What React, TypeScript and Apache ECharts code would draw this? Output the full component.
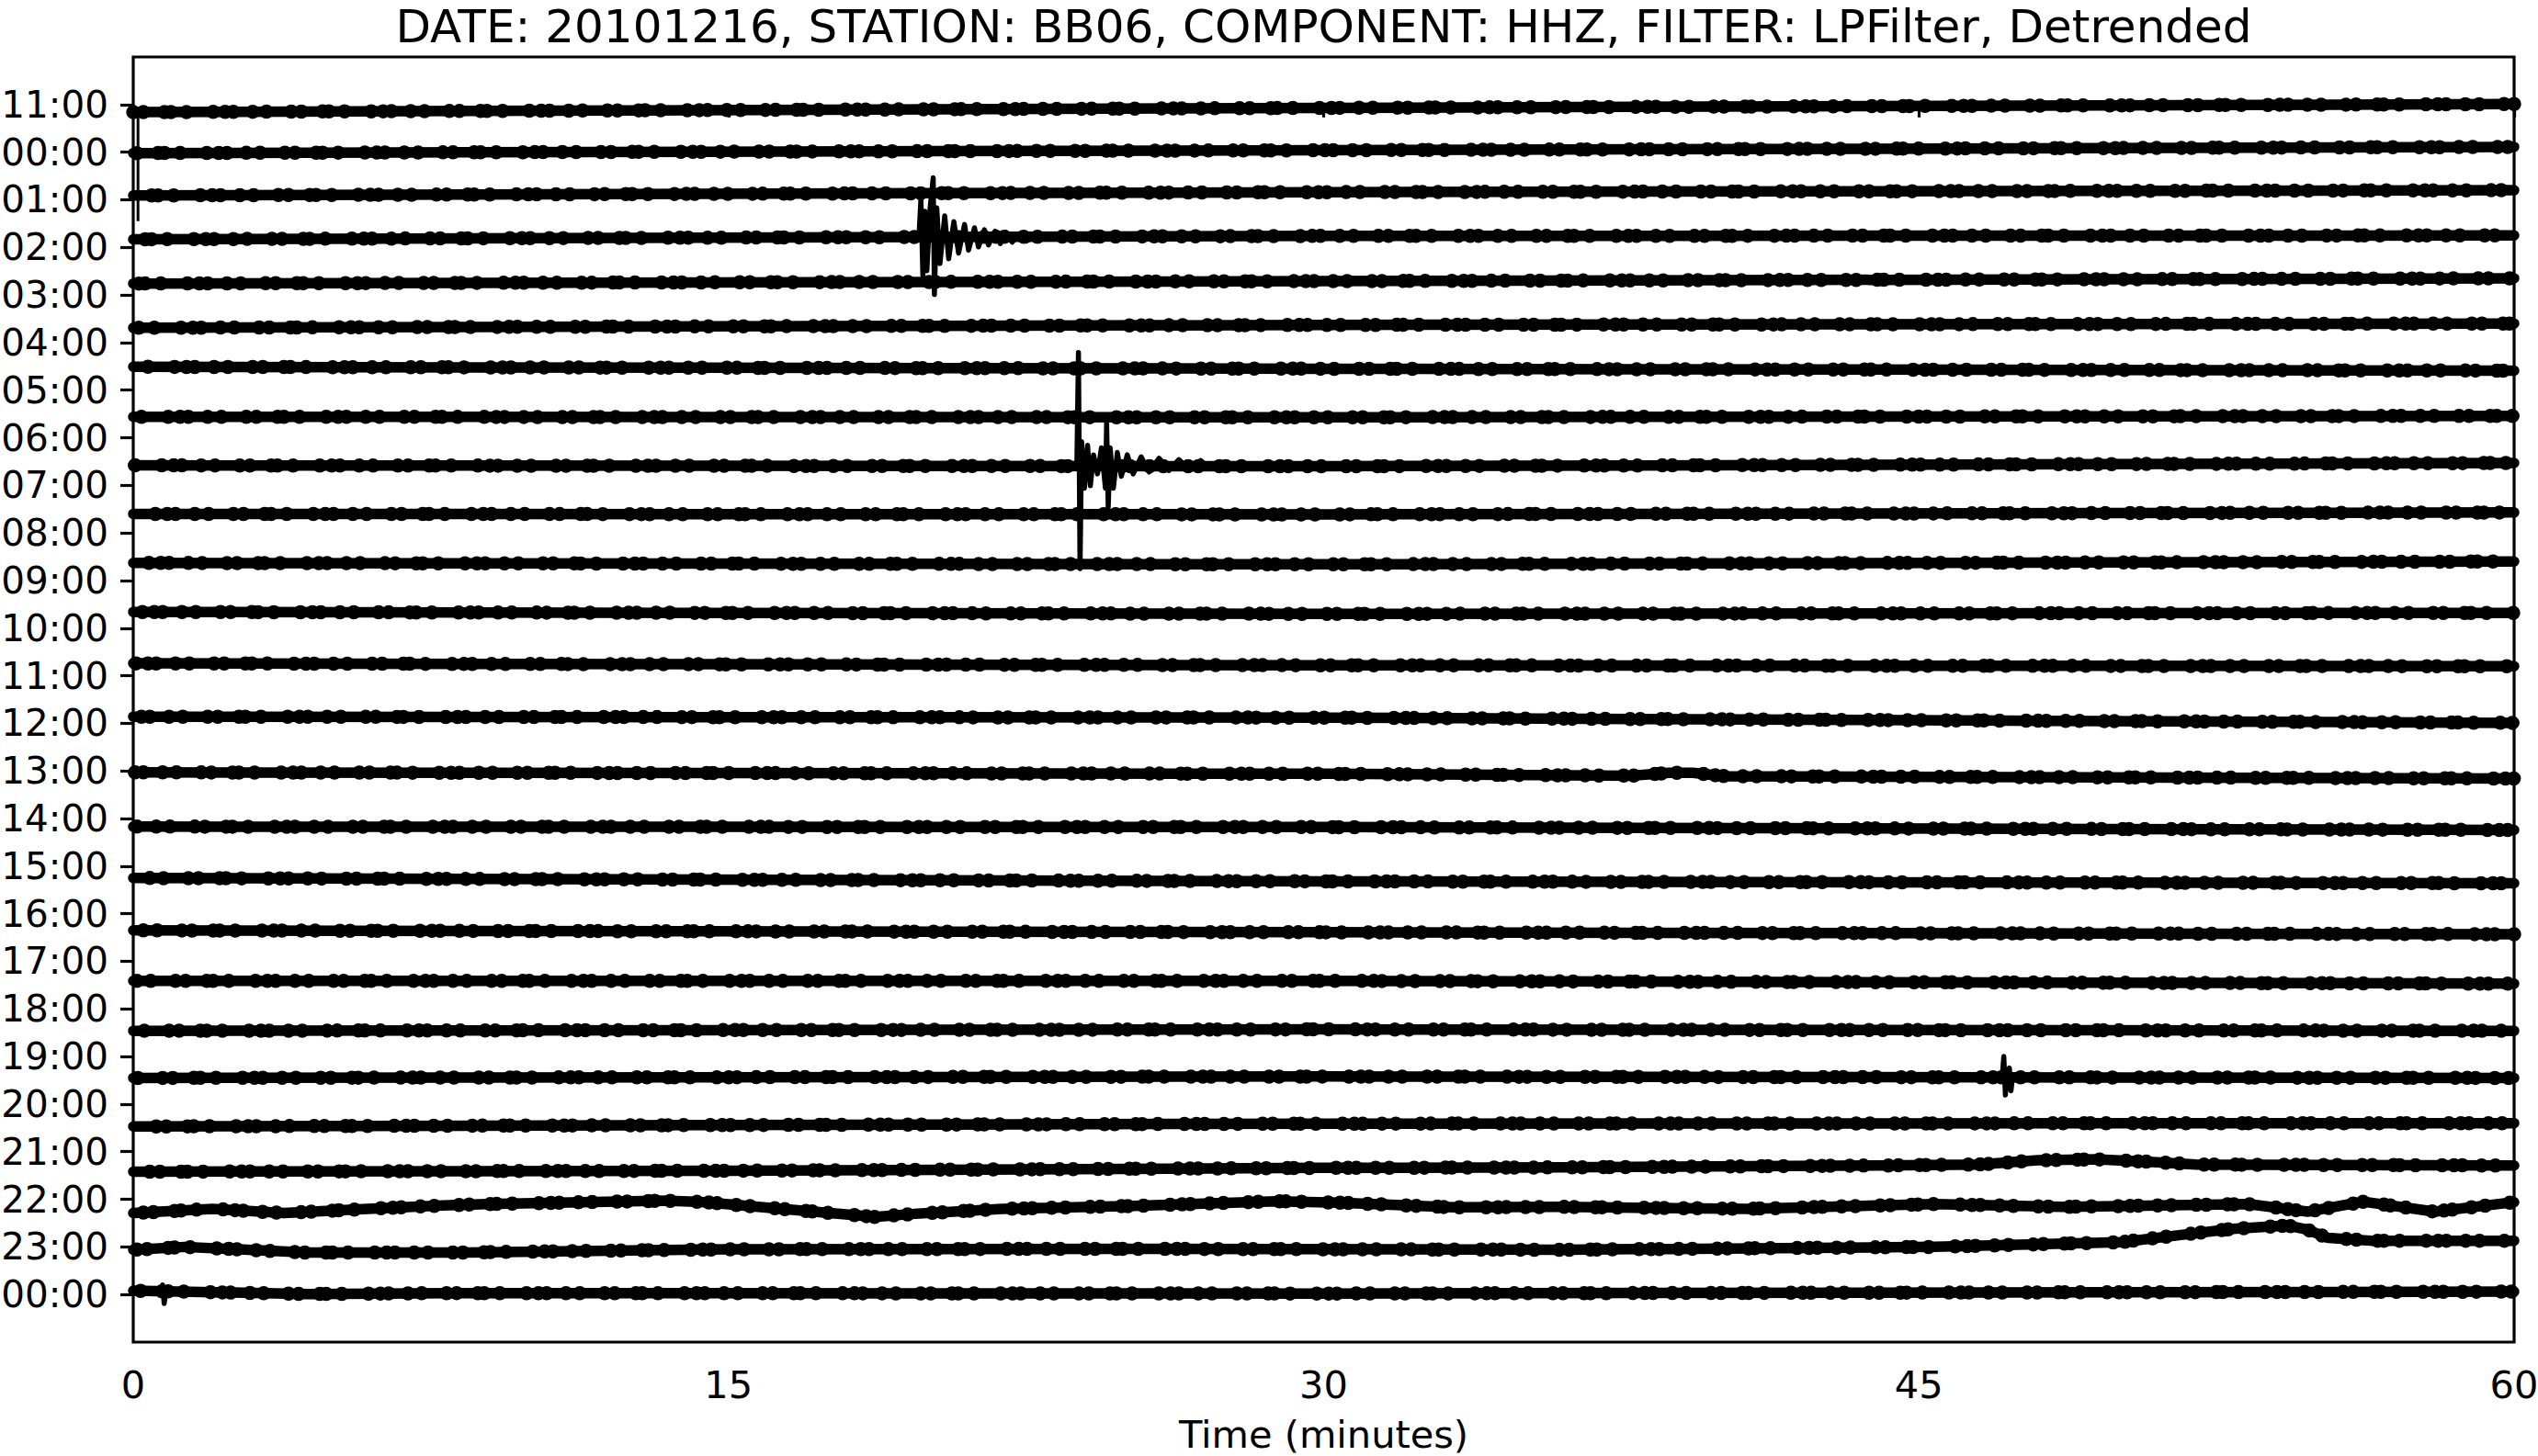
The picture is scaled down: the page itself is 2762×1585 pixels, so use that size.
import React, { useEffect, useRef } from "react";
import * as echarts from "echarts";

// ---- tick labels ----
const hourLabels = [
  "11:00", "00:00", "01:00", "02:00", "03:00", "04:00", "05:00", "06:00", "07:00",
  "08:00", "09:00", "10:00", "11:00", "12:00", "13:00", "14:00", "15:00", "16:00",
  "17:00", "18:00", "19:00", "20:00", "21:00", "22:00", "23:00", "00:00",
];
const hourTickValues = [0, 1, 2, 3, 4, 5, 6, 7, 8, 9, 10, 11, 12, 13, 14, 15, 16, 17, 18, 19, 20, 21, 22, 23, 24, 25];
const minuteTicks = [0, 15, 30, 45, 60];

const titleText = "DATE: 20101216, STATION: BB06, COMPONENT: HHZ, FILTER: LPFilter, Detrended";
const xAxisTitle = "Time (minutes)";

// ---- trace baselines: [minute, row position] (row axis grows downward) ----
const t00 = [[0, 0.16], [30, 0.07], [60, -0.01]];
const t01 = [[0, 1.02], [30, 0.96], [60, 0.89]];
const t02 = [[0, 1.91], [30, 1.84], [60, 1.8]];
const t03 = [[0, 2.83], [30, 2.76], [60, 2.75]];
const t04 = [[0, 3.76], [30, 3.71], [60, 3.65]];
const t05 = [[0, 4.69], [30, 4.63], [60, 4.6]];
const t06 = [[0, 5.51], [30, 5.55], [60, 5.59]];
const t07 = [[0, 6.56], [30, 6.57], [60, 6.54]];
const t08 = [[0, 7.58], [30, 7.6], [60, 7.53]];
const t09 = [[0, 8.6], [30, 8.61], [60, 8.57]];
const t10 = [[0, 9.63], [30, 9.66], [60, 9.6]];
const t11 = [[0, 10.66], [30, 10.7], [60, 10.68]];
const t12 = [[0, 11.74], [30, 11.78], [60, 11.8]];
const t13 = [[0, 12.86], [30, 12.88], [60, 12.99]];
const t14 = [[0, 14.03], [30, 14.06], [37.8, 14.1], [38.7, 14.04], [39.3, 14.04], [40.1, 14.11], [60, 14.16]];
const t15 = [[0, 15.17], [30, 15.18], [60, 15.24]];
const t16 = [[0, 16.25], [30, 16.32], [60, 16.36]];
const t17 = [[0, 17.35], [30, 17.39], [60, 17.43]];
const t18 = [[0, 18.41], [30, 18.41], [60, 18.47]];
const t19 = [[0, 19.46], [30, 19.43], [60, 19.46]];
const t20 = [[0, 20.45], [30, 20.42], [60, 20.45]];
const t21 = [[0, 21.47], [30, 21.41], [60, 21.4]];
const t22 = [[0, 22.42], [15, 22.4], [30, 22.34], [36, 22.33], [44, 22.29], [46.5, 22.27], [48, 22.18], [49.5, 22.16], [51, 22.22], [52, 22.27], [60, 22.29]];
const t23 = [
  [0, 23.29], [2, 23.2], [3.8, 23.29], [5.9, 23.2], [7.8, 23.13], [8.9, 23.1], [13.4, 23.03], [14.4, 23.06],
  [18.7, 23.37], [19.6, 23.31], [21.9, 23.2], [25.2, 23.14], [28.8, 23.04], [30.4, 23.07], [33.3, 23.17],
  [36, 23.16], [40.7, 23.2], [45.4, 23.1], [48.6, 23.16], [53.3, 23.1], [54.8, 23.26], [56.2, 23.05],
  [58, 23.26], [60, 23.06],
];
const t24 = [
  [0, 24.06], [1.3, 24.0], [4.4, 24.12], [8, 24.12], [15, 24.05], [25, 24.04], [36, 24.06], [45.4, 24.0],
  [50.1, 23.9], [51.7, 23.74], [52.9, 23.62], [54.3, 23.55], [54.8, 23.64], [55.3, 23.81], [56.4, 23.87], [60, 23.87],
];
const t25 = [[0, 24.92], [4.4, 24.99], [8, 24.97], [30, 24.98], [60, 24.94]];

const traces = [t00, t01, t02, t03, t04, t05, t06, t07, t08, t09, t10, t11, t12, t13, t14, t15, t16, t17, t18, t19, t20, t21, t22, t23, t24, t25];

// ---- events: [minute, offset from the trace row] ----
const eventRow03 = 2.79;
const event03 = [
  [19.8, 0], [19.85, -0.8], [19.9, 0.8], [19.95, -0.55], [20.0, 0.7], [20.08, -0.6], [20.16, -1.25],
  [20.19, 1.2], [20.25, -0.62], [20.33, 0.55], [20.45, -0.45], [20.55, 0.45], [20.68, -0.33], [20.8, 0.33],
  [20.95, -0.27], [21.05, 0.27], [21.2, -0.2], [21.3, 0.2], [21.45, -0.16], [21.55, 0.16], [21.72, -0.13],
  [21.85, 0.13], [22.0, -0.1], [22.15, 0.1], [22.35, -0.08], [22.5, 0.08], [22.7, 0],
];
const eventRow08 = 7.56;
const event08 = [
  [23.78, 0], [23.82, -2.35], [23.86, 2.19], [23.9, -0.48], [23.97, 0.5], [24.05, -0.4], [24.12, 0.45],
  [24.2, -0.2], [24.3, 0.2], [24.4, -0.35], [24.5, 0.5], [24.53, -0.87], [24.57, 0.9], [24.62, -0.35],
  [24.7, 0.5], [24.8, -0.25], [24.9, 0.25], [25.05, -0.2], [25.2, 0.2], [25.4, -0.16], [25.6, 0.16],
  [25.85, -0.13], [26.1, 0.13], [26.35, -0.1], [26.6, 0.1], [26.9, -0.08], [27.1, 0.07], [27.3, 0],
];
const eventRow20 = 20.42;
const event20 = [[47.1, 0], [47.14, -0.42], [47.18, 0.39], [47.22, 0], [47.28, -0.18], [47.32, 0.3], [47.36, 0]];
const eventRow25 = 24.92;
const event25 = [[0.7, 0], [0.74, -0.12], [0.78, 0.27], [0.82, 0]];
// thin start stroke at the left edge of the first row
const startStroke = [[0.12, 0.2], [0.12, 2.45]];

const FONT = "DejaVu Sans";
// stroke pattern used to give the thick traces their grainy edge (pixels along the line)
const grainDash = [0, 11, 0, 23, 0, 7, 0, 17, 0, 29, 0, 13, 0, 9, 0, 21, 0, 15, 0, 27];

function buildOption() {
  const series: any[] = [];
  traces.forEach((pts, i) => {
    series.push({
      type: "line",
      name: "row" + i,
      data: pts,
      showSymbol: false,
      symbol: "none",
      silent: true,
      lineStyle: { color: "#000", width: 11.5, cap: "round", join: "round" },
      z: 2,
    });
    series.push({
      type: "line",
      name: "grain" + i,
      data: pts,
      showSymbol: false,
      symbol: "none",
      silent: true,
      lineStyle: { color: "#000", width: 15.5, cap: "round", join: "round", type: grainDash, dashOffset: i * 7 },
      z: 2,
    });
  });
  const events: [number, number[][]][] = [
    [eventRow03, event03],
    [eventRow08, event08],
    [eventRow20, event20],
    [eventRow25, event25],
  ];
  events.forEach(([row, ev], i) => {
    series.push({
      type: "line",
      name: "event" + i,
      data: ev.map(([m, o]) => [m, row + o]),
      showSymbol: false,
      symbol: "none",
      silent: true,
      lineStyle: { color: "#000", width: 5.5, cap: "round", join: "round" },
      z: 3,
    });
  });
  series.push({
    type: "line",
    name: "start",
    data: startStroke,
    showSymbol: false,
    symbol: "none",
    silent: true,
    lineStyle: { color: "#000", width: 3 },
    z: 3,
  });

  return {
    animation: false,
    backgroundColor: "#fff",
    grid: {
      left: 145,
      right: 26,
      top: 62,
      bottom: 124,
      containLabel: false,
      outerBoundsMode: "none",
      show: true,
      borderColor: "#000",
      borderWidth: 3.2,
      backgroundColor: "transparent",
    },
    xAxis: {
      type: "value",
      min: minuteTicks[0],
      max: minuteTicks[minuteTicks.length - 1],
      interval: 15,
      axisLine: { show: false },
      axisTick: { show: true, length: 14, lineStyle: { color: "#000", width: 3.2 } },
      axisLabel: { fontSize: 41.5, fontFamily: FONT, color: "#000", margin: 25, lineHeight: 42 },
      splitLine: { show: false },
    },
    yAxis: {
      type: "value",
      inverse: true,
      min: -1,
      max: 26,
      interval: 1,
      axisLine: { show: false },
      axisTick: {
        show: true,
        length: 14,
        lineStyle: { color: "#000", width: 3.2 },
        customValues: hourTickValues,
      },
      axisLabel: {
        fontSize: 40.5,
        fontFamily: FONT,
        color: "#000",
        margin: 27,
        customValues: hourTickValues,
        formatter: (v: number) => (v >= 0 && v < hourLabels.length ? hourLabels[Math.round(v)] : ""),
      },
      splitLine: { show: false },
    },
    graphic: [
      {
        type: "text",
        x: 1440.5,
        y: 0,
        style: {
          text: titleText,
          fontSize: 50,
          lineHeight: 58,
          fontFamily: FONT,
          fill: "#000",
          align: "center",
          verticalAlign: "top",
        },
      },
      {
        type: "text",
        x: 1440.5,
        y: 1561,
        style: { text: xAxisTitle, fontSize: 41.5, fontFamily: FONT, fill: "#000", align: "center", verticalAlign: "middle" },
      },
    ],
    series,
  };
}

export default function App() {
  const ref = useRef<HTMLDivElement>(null);
  useEffect(() => {
    document.body.style.margin = "0";
    const chart = echarts.init(ref.current!, null, { renderer: "svg", width: 2762, height: 1585 });
    chart.setOption(buildOption() as any);
    return () => chart.dispose();
  }, []);
  return (
    <div
      ref={ref}
      style={{ position: "absolute", left: 0, top: 0, width: 2762, height: 1585, background: "#fff" }}
    />
  );
}
